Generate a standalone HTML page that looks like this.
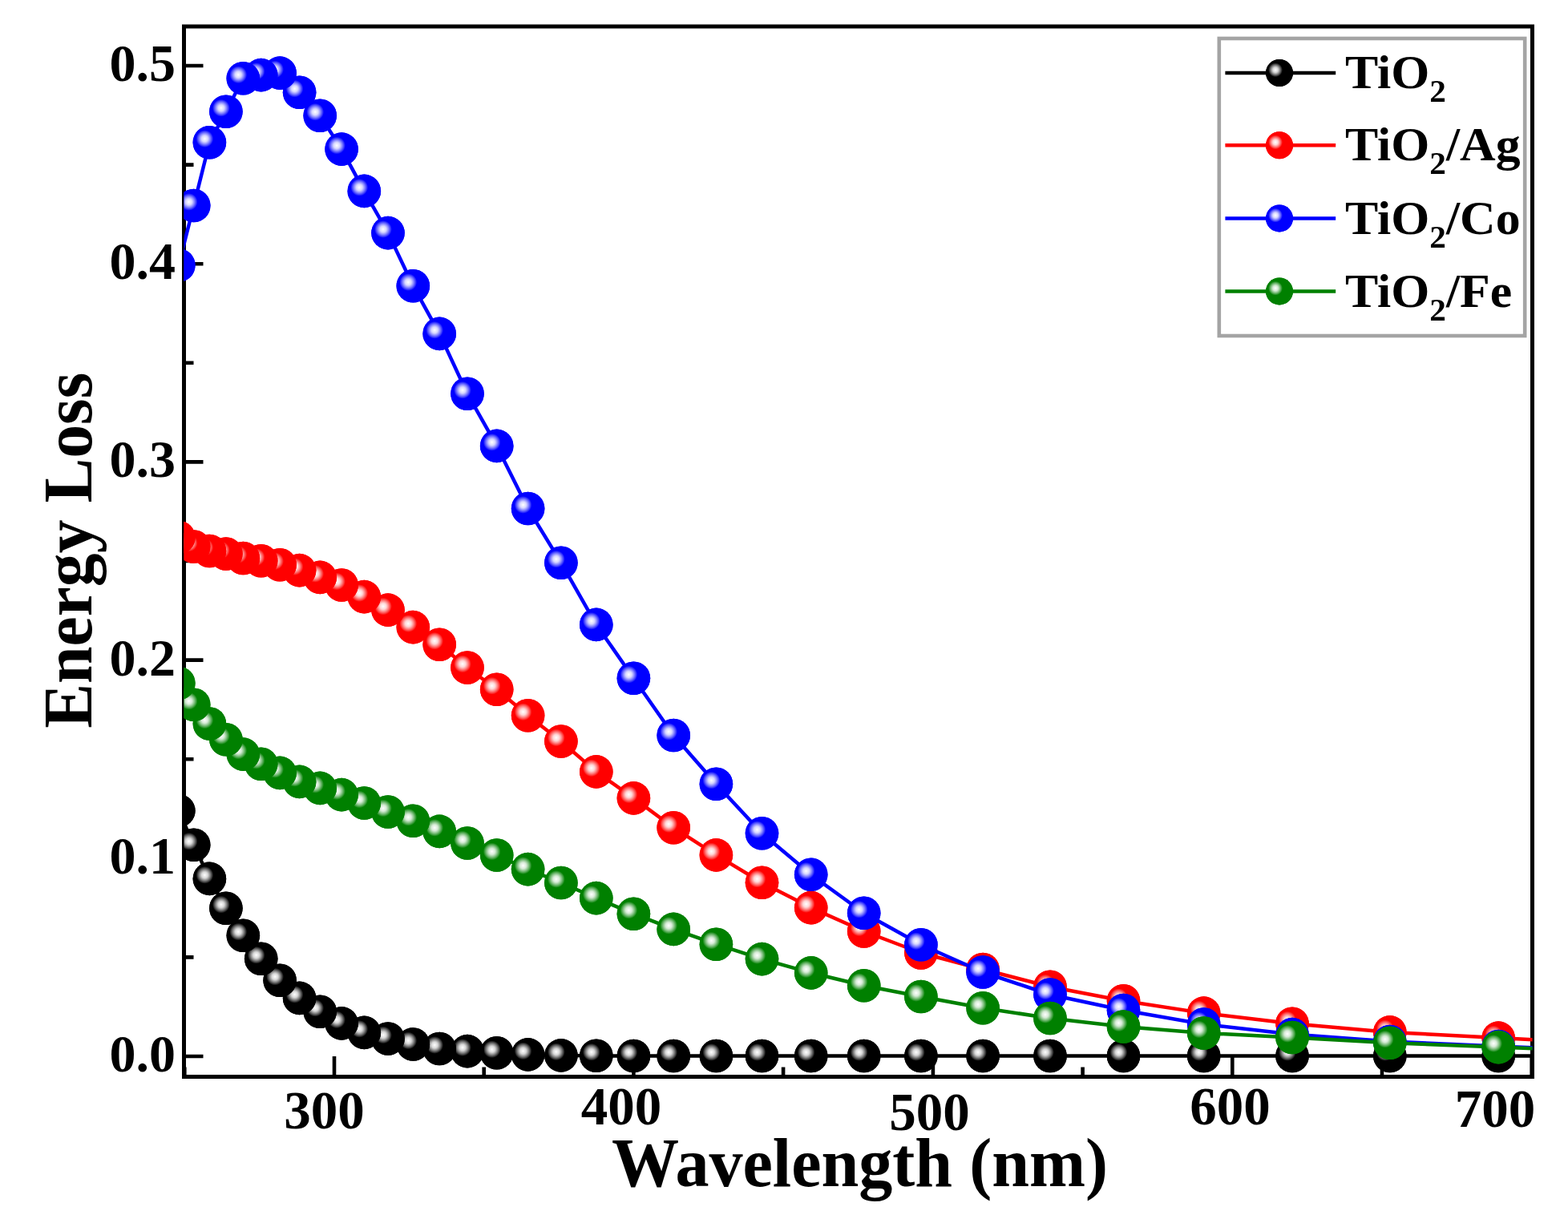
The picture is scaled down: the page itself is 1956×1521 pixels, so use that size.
<!DOCTYPE html><html><head><meta charset="utf-8"><style>html,body{margin:0;padding:0;background:#fff;overflow:hidden}svg{display:block}text{font-family:"Liberation Serif","Times New Roman",serif;font-weight:bold;fill:#000}</style></head><body>
<svg width="1956" height="1521" viewBox="0 0 1956 1521">
<defs>
<radialGradient id="gk" cx="0.355" cy="0.39" r="0.26" fx="0.355" fy="0.39"><stop offset="0" stop-color="#fff"/><stop offset="0.35" stop-color="#fff" stop-opacity="0.85"/><stop offset="1" stop-color="#000000"/></radialGradient>
<radialGradient id="gr" cx="0.355" cy="0.39" r="0.26" fx="0.355" fy="0.39"><stop offset="0" stop-color="#fff"/><stop offset="0.35" stop-color="#fff" stop-opacity="0.85"/><stop offset="1" stop-color="#ff0000"/></radialGradient>
<radialGradient id="gb" cx="0.355" cy="0.39" r="0.26" fx="0.355" fy="0.39"><stop offset="0" stop-color="#fff"/><stop offset="0.35" stop-color="#fff" stop-opacity="0.85"/><stop offset="1" stop-color="#0000ff"/></radialGradient>
<radialGradient id="gg" cx="0.355" cy="0.39" r="0.26" fx="0.355" fy="0.39"><stop offset="0" stop-color="#fff"/><stop offset="0.35" stop-color="#fff" stop-opacity="0.85"/><stop offset="1" stop-color="#008000"/></radialGradient>
<clipPath id="clip"><rect x="229.5" y="33" width="1682.0" height="1310.5"/></clipPath>
</defs>
<rect width="1956" height="1521" fill="#fff"/>
<rect x="229.5" y="33" width="1682.0" height="1310.5" fill="none" stroke="#000" stroke-width="5"/>
<path d="M229.5 1318.0h24 M229.5 1194.4h12 M229.5 1070.8h24 M229.5 947.2h12 M229.5 823.6h24 M229.5 700.0h12 M229.5 576.4h24 M229.5 452.8h12 M229.5 329.2h24 M229.5 205.6h12 M229.5 82.0h24 M230.3 1343.5v-12 M417.0 1343.5v-25.5 M603.7 1343.5v-12 M790.4 1343.5v-25.5 M977.1 1343.5v-12 M1163.9 1343.5v-25.5 M1350.6 1343.5v-12 M1537.3 1343.5v-25.5 M1724.0 1343.5v-12 M1910.7 1343.5v-25.5" stroke="#000" stroke-width="4.6" fill="none"/>
<text x="219" y="1337.0" font-size="66" text-anchor="end">0.0</text>
<text x="219" y="1089.8" font-size="66" text-anchor="end">0.1</text>
<text x="219" y="842.6" font-size="66" text-anchor="end">0.2</text>
<text x="219" y="595.4" font-size="66" text-anchor="end">0.3</text>
<text x="219" y="348.2" font-size="66" text-anchor="end">0.4</text>
<text x="219" y="101.0" font-size="66" text-anchor="end">0.5</text>
<text x="404.5" y="1408" font-size="67" text-anchor="middle">300</text>
<text x="775" y="1403" font-size="67" text-anchor="middle">400</text>
<text x="1159.5" y="1410" font-size="67" text-anchor="middle">500</text>
<text x="1534.5" y="1403" font-size="67" text-anchor="middle">600</text>
<text x="1865" y="1406" font-size="67" text-anchor="middle">700</text>
<text x="763" y="1480" font-size="87" textLength="619" lengthAdjust="spacingAndGlyphs">Wavelength (nm)</text>
<text transform="translate(114 908.8) rotate(-90)" x="0" y="0" font-size="87" textLength="444" lengthAdjust="spacingAndGlyphs">Energy Loss</text>
<g clip-path="url(#clip)">
<polyline points="222.8,1011.6 241.7,1054.3 261.4,1096.4 281.9,1133.2 303.3,1167.2 325.7,1196.3 349.1,1223.2 373.6,1245.4 399.2,1262.3 426.1,1276.9 454.3,1288.4 484.0,1296.0 515.3,1303.0 548.2,1308.5 583.0,1311.6 619.7,1313.8 658.6,1315.9 699.9,1316.9 743.8,1317.3 790.4,1317.5 840.2,1317.5 893.4,1317.5 950.5,1317.5 1011.7,1317.5 1077.7,1317.5 1148.9,1317.5 1226.1,1317.5 1310.0,1317.5 1401.5,1317.5 1501.7,1317.5 1612.0,1317.5 1733.8,1317.5 1869.2,1317.5 1915.0,1317.5" fill="none" stroke="#000000" stroke-width="4.5" stroke-linejoin="round"/>
<circle cx="1869.2" cy="1317.5" r="20.8" fill="#000000"/><circle cx="1869.2" cy="1317.5" r="20.8" fill="url(#gk)"/>
<circle cx="1733.8" cy="1317.5" r="20.8" fill="#000000"/><circle cx="1733.8" cy="1317.5" r="20.8" fill="url(#gk)"/>
<circle cx="1612.0" cy="1317.5" r="20.8" fill="#000000"/><circle cx="1612.0" cy="1317.5" r="20.8" fill="url(#gk)"/>
<circle cx="1501.7" cy="1317.5" r="20.8" fill="#000000"/><circle cx="1501.7" cy="1317.5" r="20.8" fill="url(#gk)"/>
<circle cx="1401.5" cy="1317.5" r="20.8" fill="#000000"/><circle cx="1401.5" cy="1317.5" r="20.8" fill="url(#gk)"/>
<circle cx="1310.0" cy="1317.5" r="20.8" fill="#000000"/><circle cx="1310.0" cy="1317.5" r="20.8" fill="url(#gk)"/>
<circle cx="1226.1" cy="1317.5" r="20.8" fill="#000000"/><circle cx="1226.1" cy="1317.5" r="20.8" fill="url(#gk)"/>
<circle cx="1148.9" cy="1317.5" r="20.8" fill="#000000"/><circle cx="1148.9" cy="1317.5" r="20.8" fill="url(#gk)"/>
<circle cx="1077.7" cy="1317.5" r="20.8" fill="#000000"/><circle cx="1077.7" cy="1317.5" r="20.8" fill="url(#gk)"/>
<circle cx="1011.7" cy="1317.5" r="20.8" fill="#000000"/><circle cx="1011.7" cy="1317.5" r="20.8" fill="url(#gk)"/>
<circle cx="950.5" cy="1317.5" r="20.8" fill="#000000"/><circle cx="950.5" cy="1317.5" r="20.8" fill="url(#gk)"/>
<circle cx="893.4" cy="1317.5" r="20.8" fill="#000000"/><circle cx="893.4" cy="1317.5" r="20.8" fill="url(#gk)"/>
<circle cx="840.2" cy="1317.5" r="20.8" fill="#000000"/><circle cx="840.2" cy="1317.5" r="20.8" fill="url(#gk)"/>
<circle cx="790.4" cy="1317.5" r="20.8" fill="#000000"/><circle cx="790.4" cy="1317.5" r="20.8" fill="url(#gk)"/>
<circle cx="743.8" cy="1317.3" r="20.8" fill="#000000"/><circle cx="743.8" cy="1317.3" r="20.8" fill="url(#gk)"/>
<circle cx="699.9" cy="1316.9" r="20.8" fill="#000000"/><circle cx="699.9" cy="1316.9" r="20.8" fill="url(#gk)"/>
<circle cx="658.6" cy="1315.9" r="20.8" fill="#000000"/><circle cx="658.6" cy="1315.9" r="20.8" fill="url(#gk)"/>
<circle cx="619.7" cy="1313.8" r="20.8" fill="#000000"/><circle cx="619.7" cy="1313.8" r="20.8" fill="url(#gk)"/>
<circle cx="583.0" cy="1311.6" r="20.8" fill="#000000"/><circle cx="583.0" cy="1311.6" r="20.8" fill="url(#gk)"/>
<circle cx="548.2" cy="1308.5" r="20.8" fill="#000000"/><circle cx="548.2" cy="1308.5" r="20.8" fill="url(#gk)"/>
<circle cx="515.3" cy="1303.0" r="20.8" fill="#000000"/><circle cx="515.3" cy="1303.0" r="20.8" fill="url(#gk)"/>
<circle cx="484.0" cy="1296.0" r="20.8" fill="#000000"/><circle cx="484.0" cy="1296.0" r="20.8" fill="url(#gk)"/>
<circle cx="454.3" cy="1288.4" r="20.8" fill="#000000"/><circle cx="454.3" cy="1288.4" r="20.8" fill="url(#gk)"/>
<circle cx="426.1" cy="1276.9" r="20.8" fill="#000000"/><circle cx="426.1" cy="1276.9" r="20.8" fill="url(#gk)"/>
<circle cx="399.2" cy="1262.3" r="20.8" fill="#000000"/><circle cx="399.2" cy="1262.3" r="20.8" fill="url(#gk)"/>
<circle cx="373.6" cy="1245.4" r="20.8" fill="#000000"/><circle cx="373.6" cy="1245.4" r="20.8" fill="url(#gk)"/>
<circle cx="349.1" cy="1223.2" r="20.8" fill="#000000"/><circle cx="349.1" cy="1223.2" r="20.8" fill="url(#gk)"/>
<circle cx="325.7" cy="1196.3" r="20.8" fill="#000000"/><circle cx="325.7" cy="1196.3" r="20.8" fill="url(#gk)"/>
<circle cx="303.3" cy="1167.2" r="20.8" fill="#000000"/><circle cx="303.3" cy="1167.2" r="20.8" fill="url(#gk)"/>
<circle cx="281.9" cy="1133.2" r="20.8" fill="#000000"/><circle cx="281.9" cy="1133.2" r="20.8" fill="url(#gk)"/>
<circle cx="261.4" cy="1096.4" r="20.8" fill="#000000"/><circle cx="261.4" cy="1096.4" r="20.8" fill="url(#gk)"/>
<circle cx="241.7" cy="1054.3" r="20.8" fill="#000000"/><circle cx="241.7" cy="1054.3" r="20.8" fill="url(#gk)"/>
<circle cx="222.8" cy="1011.6" r="20.8" fill="#000000"/><circle cx="222.8" cy="1011.6" r="20.8" fill="url(#gk)"/>
<polyline points="222.8,670.5 241.7,682.0 261.4,687.5 281.9,691.0 303.3,696.5 325.7,699.8 349.1,704.7 373.6,711.6 399.2,720.4 426.1,730.0 454.3,744.6 484.0,761.1 515.3,782.6 548.2,804.3 583.0,833.0 619.7,860.3 658.6,892.8 699.9,925.0 743.8,962.9 790.4,995.9 840.2,1032.7 893.4,1066.9 950.5,1101.2 1011.7,1132.6 1077.7,1162.0 1148.9,1189.0 1226.1,1209.5 1310.0,1231.2 1401.5,1248.8 1501.7,1264.1 1612.0,1277.2 1733.8,1287.9 1869.2,1295.1 1915.0,1297.5" fill="none" stroke="#ff0000" stroke-width="4.5" stroke-linejoin="round"/>
<circle cx="1869.2" cy="1295.1" r="20.8" fill="#ff0000"/><circle cx="1869.2" cy="1295.1" r="20.8" fill="url(#gr)"/>
<circle cx="1733.8" cy="1287.9" r="20.8" fill="#ff0000"/><circle cx="1733.8" cy="1287.9" r="20.8" fill="url(#gr)"/>
<circle cx="1612.0" cy="1277.2" r="20.8" fill="#ff0000"/><circle cx="1612.0" cy="1277.2" r="20.8" fill="url(#gr)"/>
<circle cx="1501.7" cy="1264.1" r="20.8" fill="#ff0000"/><circle cx="1501.7" cy="1264.1" r="20.8" fill="url(#gr)"/>
<circle cx="1401.5" cy="1248.8" r="20.8" fill="#ff0000"/><circle cx="1401.5" cy="1248.8" r="20.8" fill="url(#gr)"/>
<circle cx="1310.0" cy="1231.2" r="20.8" fill="#ff0000"/><circle cx="1310.0" cy="1231.2" r="20.8" fill="url(#gr)"/>
<circle cx="1226.1" cy="1209.5" r="20.8" fill="#ff0000"/><circle cx="1226.1" cy="1209.5" r="20.8" fill="url(#gr)"/>
<circle cx="1148.9" cy="1189.0" r="20.8" fill="#ff0000"/><circle cx="1148.9" cy="1189.0" r="20.8" fill="url(#gr)"/>
<circle cx="1077.7" cy="1162.0" r="20.8" fill="#ff0000"/><circle cx="1077.7" cy="1162.0" r="20.8" fill="url(#gr)"/>
<circle cx="1011.7" cy="1132.6" r="20.8" fill="#ff0000"/><circle cx="1011.7" cy="1132.6" r="20.8" fill="url(#gr)"/>
<circle cx="950.5" cy="1101.2" r="20.8" fill="#ff0000"/><circle cx="950.5" cy="1101.2" r="20.8" fill="url(#gr)"/>
<circle cx="893.4" cy="1066.9" r="20.8" fill="#ff0000"/><circle cx="893.4" cy="1066.9" r="20.8" fill="url(#gr)"/>
<circle cx="840.2" cy="1032.7" r="20.8" fill="#ff0000"/><circle cx="840.2" cy="1032.7" r="20.8" fill="url(#gr)"/>
<circle cx="790.4" cy="995.9" r="20.8" fill="#ff0000"/><circle cx="790.4" cy="995.9" r="20.8" fill="url(#gr)"/>
<circle cx="743.8" cy="962.9" r="20.8" fill="#ff0000"/><circle cx="743.8" cy="962.9" r="20.8" fill="url(#gr)"/>
<circle cx="699.9" cy="925.0" r="20.8" fill="#ff0000"/><circle cx="699.9" cy="925.0" r="20.8" fill="url(#gr)"/>
<circle cx="658.6" cy="892.8" r="20.8" fill="#ff0000"/><circle cx="658.6" cy="892.8" r="20.8" fill="url(#gr)"/>
<circle cx="619.7" cy="860.3" r="20.8" fill="#ff0000"/><circle cx="619.7" cy="860.3" r="20.8" fill="url(#gr)"/>
<circle cx="583.0" cy="833.0" r="20.8" fill="#ff0000"/><circle cx="583.0" cy="833.0" r="20.8" fill="url(#gr)"/>
<circle cx="548.2" cy="804.3" r="20.8" fill="#ff0000"/><circle cx="548.2" cy="804.3" r="20.8" fill="url(#gr)"/>
<circle cx="515.3" cy="782.6" r="20.8" fill="#ff0000"/><circle cx="515.3" cy="782.6" r="20.8" fill="url(#gr)"/>
<circle cx="484.0" cy="761.1" r="20.8" fill="#ff0000"/><circle cx="484.0" cy="761.1" r="20.8" fill="url(#gr)"/>
<circle cx="454.3" cy="744.6" r="20.8" fill="#ff0000"/><circle cx="454.3" cy="744.6" r="20.8" fill="url(#gr)"/>
<circle cx="426.1" cy="730.0" r="20.8" fill="#ff0000"/><circle cx="426.1" cy="730.0" r="20.8" fill="url(#gr)"/>
<circle cx="399.2" cy="720.4" r="20.8" fill="#ff0000"/><circle cx="399.2" cy="720.4" r="20.8" fill="url(#gr)"/>
<circle cx="373.6" cy="711.6" r="20.8" fill="#ff0000"/><circle cx="373.6" cy="711.6" r="20.8" fill="url(#gr)"/>
<circle cx="349.1" cy="704.7" r="20.8" fill="#ff0000"/><circle cx="349.1" cy="704.7" r="20.8" fill="url(#gr)"/>
<circle cx="325.7" cy="699.8" r="20.8" fill="#ff0000"/><circle cx="325.7" cy="699.8" r="20.8" fill="url(#gr)"/>
<circle cx="303.3" cy="696.5" r="20.8" fill="#ff0000"/><circle cx="303.3" cy="696.5" r="20.8" fill="url(#gr)"/>
<circle cx="281.9" cy="691.0" r="20.8" fill="#ff0000"/><circle cx="281.9" cy="691.0" r="20.8" fill="url(#gr)"/>
<circle cx="261.4" cy="687.5" r="20.8" fill="#ff0000"/><circle cx="261.4" cy="687.5" r="20.8" fill="url(#gr)"/>
<circle cx="241.7" cy="682.0" r="20.8" fill="#ff0000"/><circle cx="241.7" cy="682.0" r="20.8" fill="url(#gr)"/>
<circle cx="222.8" cy="670.5" r="20.8" fill="#ff0000"/><circle cx="222.8" cy="670.5" r="20.8" fill="url(#gr)"/>
<polyline points="222.8,331.0 241.7,256.5 261.4,177.7 281.9,139.3 303.3,97.8 325.7,93.6 349.1,91.1 373.6,115.2 399.2,144.3 426.1,186.1 454.3,238.4 484.0,290.6 515.3,356.7 548.2,416.4 583.0,491.3 619.7,556.4 658.6,634.5 699.9,702.2 743.8,779.4 790.4,846.2 840.2,917.5 893.4,978.2 950.5,1039.7 1011.7,1091.3 1077.7,1139.3 1148.9,1178.8 1226.1,1213.0 1310.0,1241.0 1401.5,1260.5 1501.7,1278.0 1612.0,1290.6 1733.8,1299.5 1869.2,1305.5 1915.0,1307.5" fill="none" stroke="#0000ff" stroke-width="4.5" stroke-linejoin="round"/>
<circle cx="1869.2" cy="1305.5" r="20.8" fill="#0000ff"/><circle cx="1869.2" cy="1305.5" r="20.8" fill="url(#gb)"/>
<circle cx="1733.8" cy="1299.5" r="20.8" fill="#0000ff"/><circle cx="1733.8" cy="1299.5" r="20.8" fill="url(#gb)"/>
<circle cx="1612.0" cy="1290.6" r="20.8" fill="#0000ff"/><circle cx="1612.0" cy="1290.6" r="20.8" fill="url(#gb)"/>
<circle cx="1501.7" cy="1278.0" r="20.8" fill="#0000ff"/><circle cx="1501.7" cy="1278.0" r="20.8" fill="url(#gb)"/>
<circle cx="1401.5" cy="1260.5" r="20.8" fill="#0000ff"/><circle cx="1401.5" cy="1260.5" r="20.8" fill="url(#gb)"/>
<circle cx="1310.0" cy="1241.0" r="20.8" fill="#0000ff"/><circle cx="1310.0" cy="1241.0" r="20.8" fill="url(#gb)"/>
<circle cx="1226.1" cy="1213.0" r="20.8" fill="#0000ff"/><circle cx="1226.1" cy="1213.0" r="20.8" fill="url(#gb)"/>
<circle cx="1148.9" cy="1178.8" r="20.8" fill="#0000ff"/><circle cx="1148.9" cy="1178.8" r="20.8" fill="url(#gb)"/>
<circle cx="1077.7" cy="1139.3" r="20.8" fill="#0000ff"/><circle cx="1077.7" cy="1139.3" r="20.8" fill="url(#gb)"/>
<circle cx="1011.7" cy="1091.3" r="20.8" fill="#0000ff"/><circle cx="1011.7" cy="1091.3" r="20.8" fill="url(#gb)"/>
<circle cx="950.5" cy="1039.7" r="20.8" fill="#0000ff"/><circle cx="950.5" cy="1039.7" r="20.8" fill="url(#gb)"/>
<circle cx="893.4" cy="978.2" r="20.8" fill="#0000ff"/><circle cx="893.4" cy="978.2" r="20.8" fill="url(#gb)"/>
<circle cx="840.2" cy="917.5" r="20.8" fill="#0000ff"/><circle cx="840.2" cy="917.5" r="20.8" fill="url(#gb)"/>
<circle cx="790.4" cy="846.2" r="20.8" fill="#0000ff"/><circle cx="790.4" cy="846.2" r="20.8" fill="url(#gb)"/>
<circle cx="743.8" cy="779.4" r="20.8" fill="#0000ff"/><circle cx="743.8" cy="779.4" r="20.8" fill="url(#gb)"/>
<circle cx="699.9" cy="702.2" r="20.8" fill="#0000ff"/><circle cx="699.9" cy="702.2" r="20.8" fill="url(#gb)"/>
<circle cx="658.6" cy="634.5" r="20.8" fill="#0000ff"/><circle cx="658.6" cy="634.5" r="20.8" fill="url(#gb)"/>
<circle cx="619.7" cy="556.4" r="20.8" fill="#0000ff"/><circle cx="619.7" cy="556.4" r="20.8" fill="url(#gb)"/>
<circle cx="583.0" cy="491.3" r="20.8" fill="#0000ff"/><circle cx="583.0" cy="491.3" r="20.8" fill="url(#gb)"/>
<circle cx="548.2" cy="416.4" r="20.8" fill="#0000ff"/><circle cx="548.2" cy="416.4" r="20.8" fill="url(#gb)"/>
<circle cx="515.3" cy="356.7" r="20.8" fill="#0000ff"/><circle cx="515.3" cy="356.7" r="20.8" fill="url(#gb)"/>
<circle cx="484.0" cy="290.6" r="20.8" fill="#0000ff"/><circle cx="484.0" cy="290.6" r="20.8" fill="url(#gb)"/>
<circle cx="454.3" cy="238.4" r="20.8" fill="#0000ff"/><circle cx="454.3" cy="238.4" r="20.8" fill="url(#gb)"/>
<circle cx="426.1" cy="186.1" r="20.8" fill="#0000ff"/><circle cx="426.1" cy="186.1" r="20.8" fill="url(#gb)"/>
<circle cx="399.2" cy="144.3" r="20.8" fill="#0000ff"/><circle cx="399.2" cy="144.3" r="20.8" fill="url(#gb)"/>
<circle cx="373.6" cy="115.2" r="20.8" fill="#0000ff"/><circle cx="373.6" cy="115.2" r="20.8" fill="url(#gb)"/>
<circle cx="349.1" cy="91.1" r="20.8" fill="#0000ff"/><circle cx="349.1" cy="91.1" r="20.8" fill="url(#gb)"/>
<circle cx="325.7" cy="93.6" r="20.8" fill="#0000ff"/><circle cx="325.7" cy="93.6" r="20.8" fill="url(#gb)"/>
<circle cx="303.3" cy="97.8" r="20.8" fill="#0000ff"/><circle cx="303.3" cy="97.8" r="20.8" fill="url(#gb)"/>
<circle cx="281.9" cy="139.3" r="20.8" fill="#0000ff"/><circle cx="281.9" cy="139.3" r="20.8" fill="url(#gb)"/>
<circle cx="261.4" cy="177.7" r="20.8" fill="#0000ff"/><circle cx="261.4" cy="177.7" r="20.8" fill="url(#gb)"/>
<circle cx="241.7" cy="256.5" r="20.8" fill="#0000ff"/><circle cx="241.7" cy="256.5" r="20.8" fill="url(#gb)"/>
<circle cx="222.8" cy="331.0" r="20.8" fill="#0000ff"/><circle cx="222.8" cy="331.0" r="20.8" fill="url(#gb)"/>
<polyline points="222.8,852.5 241.7,879.3 261.4,903.0 281.9,922.7 303.3,941.1 325.7,953.3 349.1,964.4 373.6,975.4 399.2,983.4 426.1,991.6 454.3,1002.0 484.0,1013.0 515.3,1024.3 548.2,1037.4 583.0,1052.0 619.7,1067.0 658.6,1084.6 699.9,1101.5 743.8,1120.6 790.4,1140.2 840.2,1159.4 893.4,1178.2 950.5,1196.6 1011.7,1213.9 1077.7,1229.7 1148.9,1243.5 1226.1,1257.7 1310.0,1270.5 1401.5,1281.0 1501.7,1289.0 1612.0,1294.5 1733.8,1301.2 1869.2,1306.6 1915.0,1308.4" fill="none" stroke="#008000" stroke-width="4.5" stroke-linejoin="round"/>
<circle cx="1869.2" cy="1306.6" r="20.8" fill="#008000"/><circle cx="1869.2" cy="1306.6" r="20.8" fill="url(#gg)"/>
<circle cx="1733.8" cy="1301.2" r="20.8" fill="#008000"/><circle cx="1733.8" cy="1301.2" r="20.8" fill="url(#gg)"/>
<circle cx="1612.0" cy="1294.5" r="20.8" fill="#008000"/><circle cx="1612.0" cy="1294.5" r="20.8" fill="url(#gg)"/>
<circle cx="1501.7" cy="1289.0" r="20.8" fill="#008000"/><circle cx="1501.7" cy="1289.0" r="20.8" fill="url(#gg)"/>
<circle cx="1401.5" cy="1281.0" r="20.8" fill="#008000"/><circle cx="1401.5" cy="1281.0" r="20.8" fill="url(#gg)"/>
<circle cx="1310.0" cy="1270.5" r="20.8" fill="#008000"/><circle cx="1310.0" cy="1270.5" r="20.8" fill="url(#gg)"/>
<circle cx="1226.1" cy="1257.7" r="20.8" fill="#008000"/><circle cx="1226.1" cy="1257.7" r="20.8" fill="url(#gg)"/>
<circle cx="1148.9" cy="1243.5" r="20.8" fill="#008000"/><circle cx="1148.9" cy="1243.5" r="20.8" fill="url(#gg)"/>
<circle cx="1077.7" cy="1229.7" r="20.8" fill="#008000"/><circle cx="1077.7" cy="1229.7" r="20.8" fill="url(#gg)"/>
<circle cx="1011.7" cy="1213.9" r="20.8" fill="#008000"/><circle cx="1011.7" cy="1213.9" r="20.8" fill="url(#gg)"/>
<circle cx="950.5" cy="1196.6" r="20.8" fill="#008000"/><circle cx="950.5" cy="1196.6" r="20.8" fill="url(#gg)"/>
<circle cx="893.4" cy="1178.2" r="20.8" fill="#008000"/><circle cx="893.4" cy="1178.2" r="20.8" fill="url(#gg)"/>
<circle cx="840.2" cy="1159.4" r="20.8" fill="#008000"/><circle cx="840.2" cy="1159.4" r="20.8" fill="url(#gg)"/>
<circle cx="790.4" cy="1140.2" r="20.8" fill="#008000"/><circle cx="790.4" cy="1140.2" r="20.8" fill="url(#gg)"/>
<circle cx="743.8" cy="1120.6" r="20.8" fill="#008000"/><circle cx="743.8" cy="1120.6" r="20.8" fill="url(#gg)"/>
<circle cx="699.9" cy="1101.5" r="20.8" fill="#008000"/><circle cx="699.9" cy="1101.5" r="20.8" fill="url(#gg)"/>
<circle cx="658.6" cy="1084.6" r="20.8" fill="#008000"/><circle cx="658.6" cy="1084.6" r="20.8" fill="url(#gg)"/>
<circle cx="619.7" cy="1067.0" r="20.8" fill="#008000"/><circle cx="619.7" cy="1067.0" r="20.8" fill="url(#gg)"/>
<circle cx="583.0" cy="1052.0" r="20.8" fill="#008000"/><circle cx="583.0" cy="1052.0" r="20.8" fill="url(#gg)"/>
<circle cx="548.2" cy="1037.4" r="20.8" fill="#008000"/><circle cx="548.2" cy="1037.4" r="20.8" fill="url(#gg)"/>
<circle cx="515.3" cy="1024.3" r="20.8" fill="#008000"/><circle cx="515.3" cy="1024.3" r="20.8" fill="url(#gg)"/>
<circle cx="484.0" cy="1013.0" r="20.8" fill="#008000"/><circle cx="484.0" cy="1013.0" r="20.8" fill="url(#gg)"/>
<circle cx="454.3" cy="1002.0" r="20.8" fill="#008000"/><circle cx="454.3" cy="1002.0" r="20.8" fill="url(#gg)"/>
<circle cx="426.1" cy="991.6" r="20.8" fill="#008000"/><circle cx="426.1" cy="991.6" r="20.8" fill="url(#gg)"/>
<circle cx="399.2" cy="983.4" r="20.8" fill="#008000"/><circle cx="399.2" cy="983.4" r="20.8" fill="url(#gg)"/>
<circle cx="373.6" cy="975.4" r="20.8" fill="#008000"/><circle cx="373.6" cy="975.4" r="20.8" fill="url(#gg)"/>
<circle cx="349.1" cy="964.4" r="20.8" fill="#008000"/><circle cx="349.1" cy="964.4" r="20.8" fill="url(#gg)"/>
<circle cx="325.7" cy="953.3" r="20.8" fill="#008000"/><circle cx="325.7" cy="953.3" r="20.8" fill="url(#gg)"/>
<circle cx="303.3" cy="941.1" r="20.8" fill="#008000"/><circle cx="303.3" cy="941.1" r="20.8" fill="url(#gg)"/>
<circle cx="281.9" cy="922.7" r="20.8" fill="#008000"/><circle cx="281.9" cy="922.7" r="20.8" fill="url(#gg)"/>
<circle cx="261.4" cy="903.0" r="20.8" fill="#008000"/><circle cx="261.4" cy="903.0" r="20.8" fill="url(#gg)"/>
<circle cx="241.7" cy="879.3" r="20.8" fill="#008000"/><circle cx="241.7" cy="879.3" r="20.8" fill="url(#gg)"/>
<circle cx="222.8" cy="852.5" r="20.8" fill="#008000"/><circle cx="222.8" cy="852.5" r="20.8" fill="url(#gg)"/>
</g>
<rect x="1520.8" y="48" width="381.4" height="371" fill="#fff" stroke="#a4a4a4" stroke-width="4.6"/>
<line x1="1528.4" y1="91" x2="1666.2" y2="91" stroke="#000000" stroke-width="4.5"/>
<circle cx="1596" cy="91" r="17" fill="#000000"/><circle cx="1596" cy="91" r="17" fill="url(#gk)"/>
<g transform="translate(1678 110.2) scale(1.03 1)"><text x="0" y="0" font-size="60">TiO<tspan font-size="40" dy="17">2</tspan><tspan dy="-17"></tspan></text></g>
<line x1="1528.4" y1="181.2" x2="1666.2" y2="181.2" stroke="#ff0000" stroke-width="4.5"/>
<circle cx="1596" cy="181.2" r="17" fill="#ff0000"/><circle cx="1596" cy="181.2" r="17" fill="url(#gr)"/>
<g transform="translate(1678 200.4) scale(1.03 1)"><text x="0" y="0" font-size="60">TiO<tspan font-size="40" dy="17">2</tspan><tspan dy="-17">/Ag</tspan></text></g>
<line x1="1528.4" y1="272.4" x2="1666.2" y2="272.4" stroke="#0000ff" stroke-width="4.5"/>
<circle cx="1596" cy="272.4" r="17" fill="#0000ff"/><circle cx="1596" cy="272.4" r="17" fill="url(#gb)"/>
<g transform="translate(1678 291.6) scale(1.03 1)"><text x="0" y="0" font-size="60">TiO<tspan font-size="40" dy="17">2</tspan><tspan dy="-17">/Co</tspan></text></g>
<line x1="1528.4" y1="363.4" x2="1666.2" y2="363.4" stroke="#008000" stroke-width="4.5"/>
<circle cx="1596" cy="363.4" r="17" fill="#008000"/><circle cx="1596" cy="363.4" r="17" fill="url(#gg)"/>
<g transform="translate(1678 382.6) scale(1.03 1)"><text x="0" y="0" font-size="60">TiO<tspan font-size="40" dy="17">2</tspan><tspan dy="-17">/Fe</tspan></text></g>
</svg></body></html>
